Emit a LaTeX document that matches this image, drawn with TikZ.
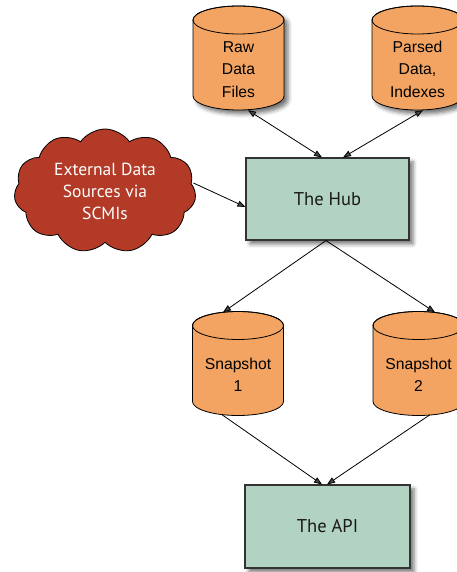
\documentclass[tikz,border=0pt]{standalone}
\usepackage{fontspec}
\setmainfont{Liberation Sans}
\newfontfamily\myrfont{PT Sans}
\usetikzlibrary{shapes.symbols,shadows.blur,arrows.meta}
\definecolor{cylorange}{HTML}{F3A462}
\definecolor{boxgreen}{HTML}{B2D3C2}
\definecolor{cloudred}{HTML}{B23A26}
\tikzset{
  shadowed/.style={blur shadow={shadow xshift=4pt,shadow yshift=-4pt,shadow blur radius=4pt,shadow opacity=55}},
  cylbody/.style={fill=cylorange,draw=black,line width=0.8pt},
  cyllabel/.style={minimum width=91pt,minimum height=104pt,inner sep=0pt,font=\fontsize{15.7}{22.5}\selectfont},
  greenbox/.style={draw=black!80,line width=1.1pt,fill=boxgreen,minimum width=163pt,minimum height=82pt,inner sep=0pt,font=\myrfont\fontsize{18.5}{22}\selectfont,text=black!90,shadowed},
  cloudnode/.style={cloud,cloud puffs=11,cloud puff arc=110,aspect=1.5,draw=black,line width=0.8pt,fill=cloudred,minimum width=182pt,minimum height=124pt,inner sep=0pt,align=center,text=white,font=\myrfont\fontsize{17.5}{22}\selectfont},
  conn/.style={line width=0.8pt,-{Triangle[length=8pt,width=6pt]}},
  bconn/.style={line width=0.8pt,{Triangle[length=8pt,width=6pt]}-{Triangle[length=8pt,width=6pt]}}
}
% #1 name, #2 cx, #3 cy, #4 text, #5 extra options (shadow)
\newcommand\cylnode[5]{%
  \path[cylbody,#5] ({#2-45.5},{#3+52-14}) -- ({#2-45.5},{#3-52+14})
     arc[start angle=180,end angle=360,x radius=45.5,y radius=14]
     -- ({#2+45.5},{#3+52-14})
     arc[start angle=0,end angle=180,x radius=45.5,y radius=14] -- cycle;
  \draw[line width=0.8pt] ({#2},{#3+52-14}) ellipse[x radius=45.5,y radius=14];
  \node[cyllabel] (#1) at ({#2},{#3}) {\raisebox{-12.5pt}[\height][\depth]{\begin{tabular}{@{}c@{}}#4\end{tabular}}};%
}
\begin{document}
\begin{tikzpicture}[x=1pt,y=1pt]
\useasboundingbox (0,0) rectangle (457,572);
\cylnode{raw}{238.5}{514}{Raw\\Data\\Files}{shadowed}
\cylnode{parsed}{417.5}{514}{Parsed\\Data,\\Indexes}{shadowed}
\cylnode{snapa}{238}{208.5}{Snapshot\\1}{}
\cylnode{snapb}{418.5}{208.5}{Snapshot\\2}{}
\node[greenbox] (hub) at (327.5,373) {The Hub};
\node[greenbox,minimum width=165pt,minimum height=83pt] (api) at (327.5,45.5) {The API};
\node[cloudnode] (ext) at (105,381) {External Data\\Sources via\\SCMIs};
\draw[bconn] ([xshift=9.5pt]raw.south) -- ([xshift=-5.5pt]hub.north);
\draw[bconn] ([xshift=5.5pt]parsed.south) -- ([xshift=15.5pt]hub.north);
\draw[conn] ([shift={(-2pt,8pt)}]ext.east) -- ([yshift=-8pt]hub.west);
\draw[conn] ([xshift=-1.5pt]hub.south) -- ([shift={(-15pt,-1pt)}]snapa.north);
\draw[conn] ([xshift=-1.5pt]hub.south) -- ([shift={(16.5pt,-1pt)}]snapb.north);
\draw[conn] ([shift={(-16pt,1pt)}]snapa.south) -- ([xshift=-5.5pt]api.north);
\draw[conn] ([shift={(11.5pt,1pt)}]snapb.south) -- ([xshift=-0.5pt]api.north);
\end{tikzpicture}
\end{document}
